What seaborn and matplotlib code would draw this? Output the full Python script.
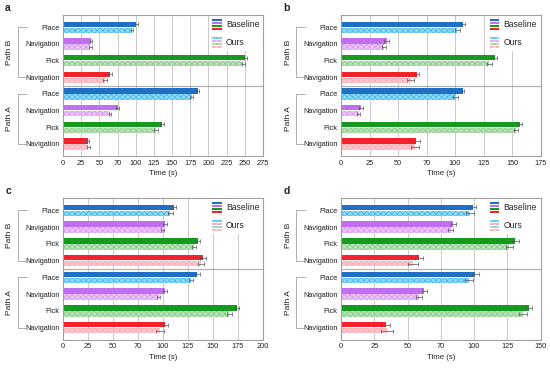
import numpy as np
import pandas as pd
import seaborn as sns
import matplotlib.pyplot as plt
from matplotlib.patches import Rectangle
from matplotlib.legend_handler import HandlerBase
from matplotlib.transforms import blended_transform_factory

# rows top to bottom: Path B then Path A
paths = ["Path B", "Path A"]
steps = ["Place", "Navigation", "Pick", "Navigation"]
methods = ["Baseline", "Ours"]

# panel a
a_base = [101, 38.5, 251, 65, 185.5, 75, 136, 34]
a_ours = [95, 37.5, 248, 58, 177, 65, 128, 35]
a_err_base = [2, 2, 2.5, 2.5, 2, 1.5, 2.5, 2]
a_err_ours = [2, 2, 2, 2.5, 2, 1.5, 2.5, 2.5]
a_ticks = ["0", "25", "50", "70", "100", "125", "150", "175", "200", "225", "250", "275"]

# panel b
b_base = [107, 40, 135, 66.5, 106.5, 17.5, 156.5, 66]
b_ours = [102, 37.5, 130, 61, 100.5, 15.5, 153.5, 65]
b_err_base = [2, 2, 2, 2, 1.5, 2, 2, 3]
b_err_ours = [2, 2, 2, 3, 2, 1.5, 2, 3.5]
b_ticks = ["0", "25", "50", "70", "100", "125", "150", "175"]

# panel c
c_base = [111, 102.5, 135, 140, 134.5, 102.5, 174.5, 102]
c_ours = [107.5, 100, 131.5, 138, 128, 96, 166.5, 97.5]
c_err_base = [2, 2, 2.5, 3, 2.5, 2, 2, 3]
c_err_ours = [2.5, 1.5, 2, 3, 2, 1.5, 2.5, 4]
c_ticks = ["0", "25", "50", "70", "100", "125", "150", "175", "200"]

# panel d
d_base = [99, 84.5, 131, 58.5, 101, 62.5, 141, 33.5]
d_ours = [97, 82.5, 126.5, 54, 96.5, 58.5, 137, 34.5]
d_err_base = [2.5, 2, 2.5, 3, 2.5, 2, 2.5, 3.5]
d_err_ours = [3, 2, 2.5, 3.5, 3, 2, 3, 4.5]
d_ticks = ["0", "25", "50", "70", "100", "125", "150"]

base_colors = ["#1f6fc5", "#bf6ff0", "#149a1c", "#f4222c"]
ours_colors = ["#8fdbf7", "#ecc4f7", "#b9e2b9", "#ffcbd0"]
hatch_colors = ["#3fb4ea", "#d598f0", "#86cc86", "#f6a6ae"]

panels = [
    ("a", a_base, a_ours, a_err_base, a_err_ours, a_ticks, [0.1145, 0.577, 0.3635, 0.382]),
    ("b", b_base, b_ours, b_err_base, b_err_ours, b_ticks, [0.620, 0.577, 0.363, 0.382]),
    ("c", c_base, c_ours, c_err_base, c_err_ours, c_ticks, [0.1145, 0.079, 0.3635, 0.384]),
    ("d", d_base, d_ours, d_err_base, d_err_ours, d_ticks, [0.620, 0.079, 0.363, 0.384]),
]


class StackHandle:
    def __init__(self, colors, hatch=None, hcolors=None):
        self.colors = colors
        self.hatch = hatch
        self.hcolors = hcolors


class StackHandler(HandlerBase):
    def create_artists(self, legend, orig_handle, xdescent, ydescent,
                       width, height, fontsize, trans):
        n = len(orig_handle.colors)
        step = height / n
        arts = []
        for i, c in enumerate(orig_handle.colors):
            ec = orig_handle.hcolors[i] if orig_handle.hcolors else c
            r = Rectangle((-xdescent, -ydescent + height - (i + 1) * step + step * 0.12),
                          width, step * 0.76, facecolor=c, edgecolor=ec, lw=0,
                          hatch=orig_handle.hatch, transform=trans)
            arts.append(r)
        return arts


sns.set_theme(style="white")
plt.rcParams["font.family"] = ["Liberation Sans", "DejaVu Sans"]
plt.rcParams["hatch.linewidth"] = 0.5

fig = plt.figure(figsize=(5.5, 3.69), dpi=100)

row_keys = [f"{p}|{i}" for p in paths for i in range(len(steps))]
row_labels = steps * len(paths)

for letter, base, ours, eb, eo, ticks, pos in panels:
    ax = fig.add_axes(pos)
    df = pd.DataFrame({
        "row": row_keys * 2,
        "method": ["Baseline"] * len(row_keys) + ["Ours"] * len(row_keys),
        "time": base + ours,
    })
    sns.barplot(data=df, y="row", x="time", hue="method", orient="h",
                order=row_keys, hue_order=methods, width=0.72, gap=0.1,
                errorbar=None, legend=False, ax=ax)

    for k, (cont, errs) in enumerate(zip(ax.containers, [eb, eo])):
        ys = []
        for i, bar in enumerate(cont):
            ci = i % len(steps)
            if k == 0:
                bar.set_facecolor(base_colors[ci])
                bar.set_edgecolor(base_colors[ci])
                bar.set_linewidth(0)
            else:
                bar.set_facecolor(ours_colors[ci])
                bar.set_edgecolor(hatch_colors[ci])
                bar.set_linewidth(0)
                bar.set_hatch("xxxxxx")
            ys.append(bar.get_y() + bar.get_height() / 2)
        vals = base if k == 0 else ours
        ax.errorbar(vals, ys, xerr=errs, fmt="none", ecolor="#555555",
                    elinewidth=0.5, capsize=1.4, capthick=0.5, zorder=4)

    xmax = 25 * (len(ticks) - 1)
    ax.set_xlim(0, xmax)
    ax.set_xticks(np.arange(0, xmax + 1, 25))
    ax.set_xticklabels(ticks)
    ax.set_yticks(range(len(row_keys)))
    ax.set_yticklabels(row_labels)
    ax.tick_params(axis="both", length=0, labelsize=5.3, pad=2.5, colors="#222222")
    ax.set_xlabel("Time (s)", fontsize=5.6, labelpad=2.5, color="#222222")
    ax.set_ylabel("")
    ax.grid(axis="x", color="#c9c9c9", lw=0.7)
    ax.set_axisbelow(True)
    for sp in ax.spines.values():
        sp.set_color("#a0a0a0")
        sp.set_linewidth(0.8)

    # separator between the two paths
    ax.axhline(len(steps) - 0.5, color="#b0b0b0", lw=0.9, zorder=3)

    # group brackets on the left
    tr = blended_transform_factory(ax.transAxes, ax.transData)
    for g, p in enumerate(paths):
        y0 = g * len(steps)
        y1 = y0 + len(steps) - 1
        ax.plot([-0.18, -0.225, -0.225, -0.18], [y0, y0, y1, y1], transform=tr,
                color="#a0a0a0", lw=0.6, clip_on=False)
        ax.text(-0.265, (y0 + y1) / 2, p, transform=tr, rotation=90,
                ha="center", va="center", fontsize=6, color="#222222")

    leg = ax.legend([StackHandle(base_colors), StackHandle(ours_colors, "xxxxxx", hatch_colors)],
                    methods, handler_map={StackHandle: StackHandler()},
                    loc="upper right", fontsize=6.2, handlelength=1.1, handleheight=1.75,
                    labelspacing=0.7, handletextpad=0.5, borderaxespad=0.1,
                    borderpad=0.3, frameon=True, fancybox=False,
                    facecolor="white", edgecolor="none", framealpha=1)
    leg.set_zorder(5)

    fig.text(pos[0] - 0.105, pos[1] + pos[3] + 0.006, letter, fontsize=7.5,
             fontweight="bold", va="bottom", ha="left")

fig.savefig("out.png", dpi=100)
